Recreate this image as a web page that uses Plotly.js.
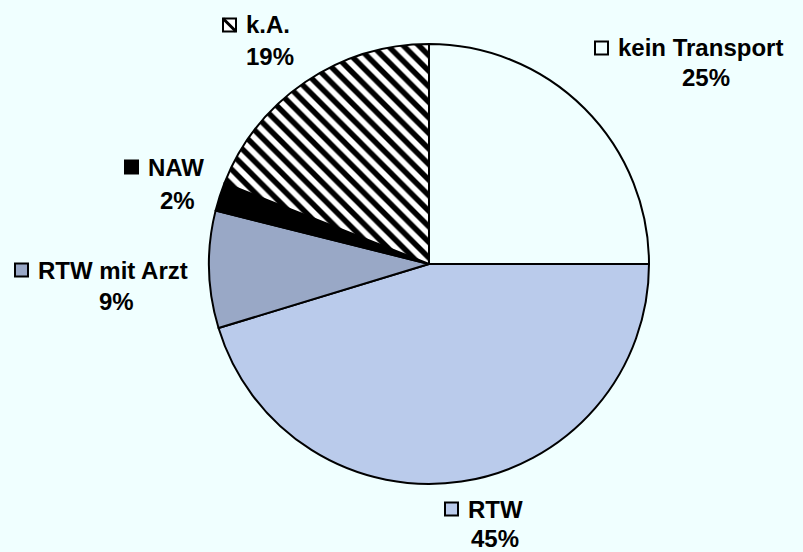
<!DOCTYPE html>
<html>
<head>
<meta charset="utf-8">
<script src="https://cdn.plot.ly/plotly-3.0.1.min.js"></script>
<style>html,body{margin:0;padding:0;background:#F0FFFF;}</style>
</head>
<body>
<div id="chart" style="width:803px;height:552px;"></div>
<script>
// ---- data ----
const categories = ["kein Transport", "RTW", "RTW mit Arzt", "NAW", "k.A."];
const values = [25.0, 45.3, 8.6, 2.1, 19.0];

// ---- styles ----
const sliceColors = ["#F0FFFF", "#BACBEB", "#99A8C6", "#000000", "#FFFFFF"];
const patternShapes = ["", "", "", "", "\\"];
const W = 803, H = 552;
const cx = 429, cy = 264, R = 220;

// label layout (pixel positions): name left edge, name middle y, percent center x, percent middle y
const labelPos = [
  {nx: 617, ny: 48,  px: 706, py: 77},
  {nx: 467, ny: 509, px: 495, py: 538},
  {nx: 37,  ny: 270, px: 116, py: 301},
  {nx: 147, ny: 167, px: 177, py: 201},
  {nx: 245, ny: 25,  px: 270, py: 56}
];
const keySize = 13, keyGap = 9;

const total = values.reduce((a, b) => a + b, 0);
const pctText = values.map(v => Math.round(v / total * 100) + "%");

const fx = px => px / W;
const fy = py => 1 - py / H;
const font = {family: "Liberation Sans, Arial, Helvetica, sans-serif", size: 24, color: "#000"};

const annotations = [];
const shapes = [];
categories.forEach((c, i) => {
  const p = labelPos[i];
  annotations.push({xref: "paper", yref: "paper", x: fx(p.nx), y: fy(p.ny), xanchor: "left", yanchor: "middle",
    text: "<b>" + c + "</b>", showarrow: false, font: font, borderpad: 0});
  annotations.push({xref: "paper", yref: "paper", x: fx(p.px), y: fy(p.py), xanchor: "center", yanchor: "middle",
    text: "<b>" + pctText[i] + "</b>", showarrow: false, font: font, borderpad: 0});
  const x1 = p.nx - keyGap, x0 = x1 - keySize, y0 = p.ny - keySize / 2, y1 = p.ny + keySize / 2;
  shapes.push({type: "rect", xref: "paper", yref: "paper", x0: fx(x0), x1: fx(x1), y0: fy(y1), y1: fy(y0),
    fillcolor: sliceColors[i], line: {color: "#000", width: 2}, layer: "above"});
  if (patternShapes[i] === "\\") {
    shapes.push({type: "line", xref: "paper", yref: "paper", x0: fx(x0), y0: fy(y0), x1: fx(x1), y1: fy(y1),
      line: {color: "#000", width: 3}, layer: "above"});
  }
});

const trace = {
  type: "pie",
  labels: categories,
  values: values,
  sort: false,
  direction: "clockwise",
  rotation: 0,
  textinfo: "none",
  hoverinfo: "none",
  showlegend: false,
  domain: {x: [fx(cx - R), fx(cx + R)], y: [fy(cy + R), fy(cy - R)]},
  marker: {
    colors: sliceColors,
    line: {color: "#000", width: 2},
    pattern: {shape: patternShapes, fgcolor: "#000", bgcolor: "#FFFFFF", size: 11, solidity: 0.5}
  }
};

const layout = {
  width: W, height: H,
  margin: {l: 0, r: 0, t: 0, b: 0},
  paper_bgcolor: "#F0FFFF",
  plot_bgcolor: "#F0FFFF",
  showlegend: false,
  annotations: annotations,
  shapes: shapes
};

Plotly.newPlot("chart", [trace], layout, {displayModeBar: false, staticPlot: true});
</script>
</body>
</html>
